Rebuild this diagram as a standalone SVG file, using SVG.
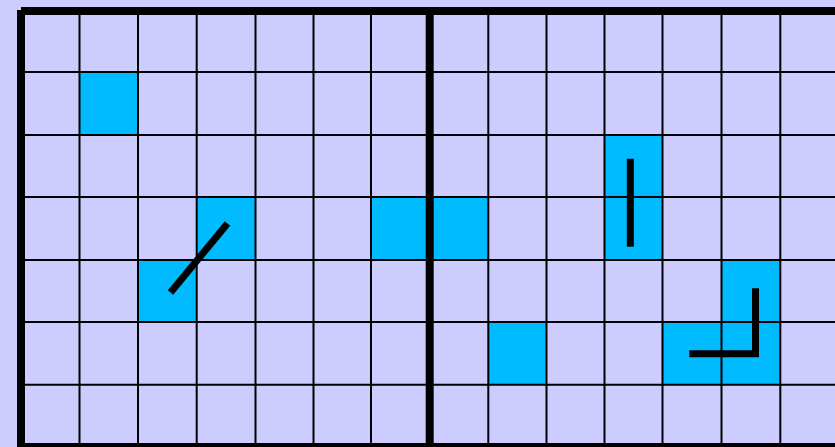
<svg xmlns="http://www.w3.org/2000/svg" width="835" height="447" viewBox="0 0 835 447">
  <style>
    .bg { fill: #CCCCFF; }
    .hi { fill: #00BBFF; }
    .thin { stroke: #000; stroke-width: 2; fill: none; }
    .thick { stroke: #000; stroke-width: 8; fill: none; }
    .mark { stroke: #000; stroke-width: 7; fill: none; stroke-linecap: butt; stroke-linejoin: miter; }
  </style>
  <rect class="bg" x="0" y="0" width="835" height="447"/>
  <g id="cells">
    <rect id="c-1-1" class="hi" x="79.5" y="72" width="58.5" height="63"/>
    <rect id="c-3-3" class="hi" x="196.7" y="197" width="58.8" height="63"/>
    <rect id="c-2-4" class="hi" x="138" y="260" width="58.7" height="62"/>
    <rect id="c-6-3" class="hi" x="371" y="197" width="58.7" height="63"/>
    <rect id="c-7-3" class="hi" x="429.7" y="197" width="58.6" height="63"/>
    <rect id="c-10-2" class="hi" x="604.5" y="135" width="58" height="125"/>
    <rect id="c-12-4" class="hi" x="721.5" y="260" width="58.8" height="62"/>
    <rect id="c-11-5" class="hi" x="662.5" y="322" width="117.8" height="62.5"/>
    <rect id="c-8-5" class="hi" x="488.3" y="322" width="58.2" height="62.5"/>
  </g>
  <g id="grid">
    <path class="thin" d="M79.5 11V447 M138 11V447 M196.7 11V447 M255.5 11V447 M313.5 11V447 M371 11V447 M488.3 11V447 M546.5 11V447 M604.5 11V447 M662.5 11V447 M721.5 11V447 M780.3 11V447"/>
    <path class="thin" d="M21 72H835 M21 135H835 M21 197H835 M21 260H835 M21 322H835 M21 384.7H835"/>
    <path class="thick" d="M21 11H835 M21 10V451 M429.7 11V447 M17 447H835"/>
  </g>
  <g id="connectors">
    <line class="mark" x1="170.5" y1="292.5" x2="227.5" y2="223.5"/>
    <line class="mark" x1="630.3" y1="158.7" x2="630.3" y2="246.7"/>
    <path class="mark" d="M689.3 353.7H755.5V288.3" stroke-width="7.5"/>
  </g>
</svg>
